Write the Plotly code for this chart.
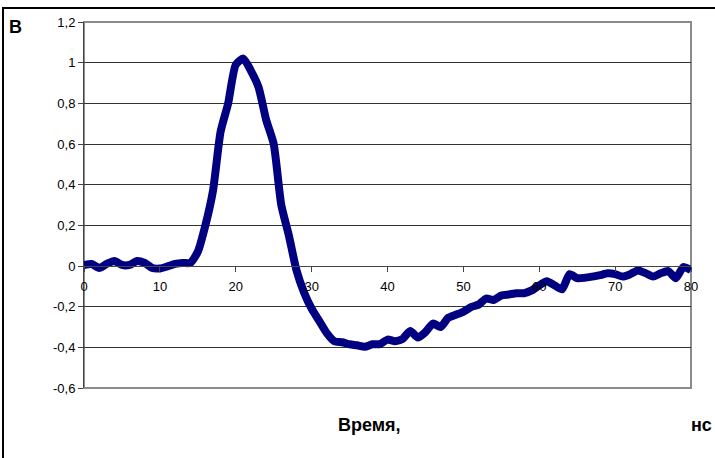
import plotly.graph_objects as go

time_ns = list(range(0, 81))
signal = [0.005, 0.01, -0.01, 0.01, 0.025, 0.005, 0.005, 0.025, 0.015, -0.01,
          -0.012, -0.002, 0.01, 0.015, 0.015, 0.07, 0.2, 0.37, 0.66, 0.8,
          0.99, 1.02, 0.96, 0.88, 0.72, 0.6, 0.3, 0.15, -0.02, -0.13,
          -0.21, -0.27, -0.33, -0.37, -0.375, -0.385, -0.39, -0.397, -0.385, -0.384,
          -0.362, -0.37, -0.358, -0.32, -0.352, -0.325, -0.283, -0.3, -0.255, -0.24,
          -0.225, -0.202, -0.19, -0.16, -0.167, -0.145, -0.14, -0.134, -0.134, -0.12,
          -0.095, -0.075, -0.095, -0.115, -0.04, -0.06, -0.058, -0.052, -0.045, -0.036,
          -0.04, -0.052, -0.04, -0.022, -0.035, -0.052, -0.036, -0.025, -0.06, -0.005,
          -0.02]

x_ticks = [0, 10, 20, 30, 40, 50, 60, 70, 80]
y_ticks = [-0.6, -0.4, -0.2, 0, 0.2, 0.4, 0.6, 0.8, 1.0, 1.2]
y_tick_labels = ["-0,6", "-0,4", "-0,2", "0", "0,2", "0,4", "0,6", "0,8", "1", "1,2"]

W, H = 715, 458
L, R, T, B = 84, 24, 22, 70
pw, ph = W - L - R, H - T - B

def px2x(px):
    return (px - L) / pw

def py2y(py):
    return (H - B - py) / ph

FONT = "Arial, Liberation Sans, sans-serif"

fig = go.Figure()
fig.add_trace(go.Scatter(x=time_ns, y=signal, mode="lines",
                         line=dict(color="#000080", width=8, shape="spline", smoothing=0.6),
                         showlegend=False, hoverinfo="skip"))

fig.update_layout(
    width=W, height=H,
    margin=dict(l=L, r=R, t=T, b=B),
    paper_bgcolor="white", plot_bgcolor="white",
    font=dict(family=FONT, size=13, color="black"),
    xaxis=dict(range=[0, 80], tickvals=x_ticks, ticktext=[str(v) for v in x_ticks],
               showgrid=False, zeroline=False, showline=True, linecolor="#444444", linewidth=1,
               ticks="outside", ticklen=5, tickcolor="#444444", ticklabelstandoff=3,
               anchor="free", position=py2y(266), tickfont=dict(size=13, family=FONT)),
    yaxis=dict(range=[-0.6, 1.2], tickvals=y_ticks, ticktext=y_tick_labels,
               showgrid=True, gridcolor="#333333", gridwidth=1, zeroline=False,
               showline=True, linecolor="#444444", linewidth=1,
               ticks="outside", ticklen=5, tickcolor="#444444",
               tickfont=dict(size=13, family=FONT)),
)

# plot area border (grey, Excel style)
fig.add_shape(type="rect", xref="paper", yref="paper", x0=0, y0=0, x1=1, y1=1,
              line=dict(color="#8c8c8c", width=2), layer="below")
# outer chart border
fig.add_shape(type="rect", xref="paper", yref="paper",
              x0=px2x(3), y0=py2y(470), x1=px2x(730), y1=py2y(8),
              line=dict(color="black", width=2))

fig.add_annotation(text="<b>В</b>", xref="paper", yref="paper", x=px2x(7), y=py2y(27),
                   xanchor="left", yanchor="middle", showarrow=False,
                   font=dict(size=18, family=FONT, color="black"))
fig.add_annotation(text="<b>Время,</b>", xref="paper", yref="paper", x=px2x(369), y=py2y(425),
                   xanchor="center", yanchor="middle", showarrow=False,
                   font=dict(size=18, family=FONT, color="black"))
fig.add_annotation(text="<b>нс</b>", xref="paper", yref="paper", x=px2x(714), y=py2y(425),
                   xanchor="right", yanchor="middle", showarrow=False,
                   font=dict(size=18, family=FONT, color="black"))

fig.write_html("out.html", config={"displayModeBar": False},
               post_script="document.body.style.margin='0';")
